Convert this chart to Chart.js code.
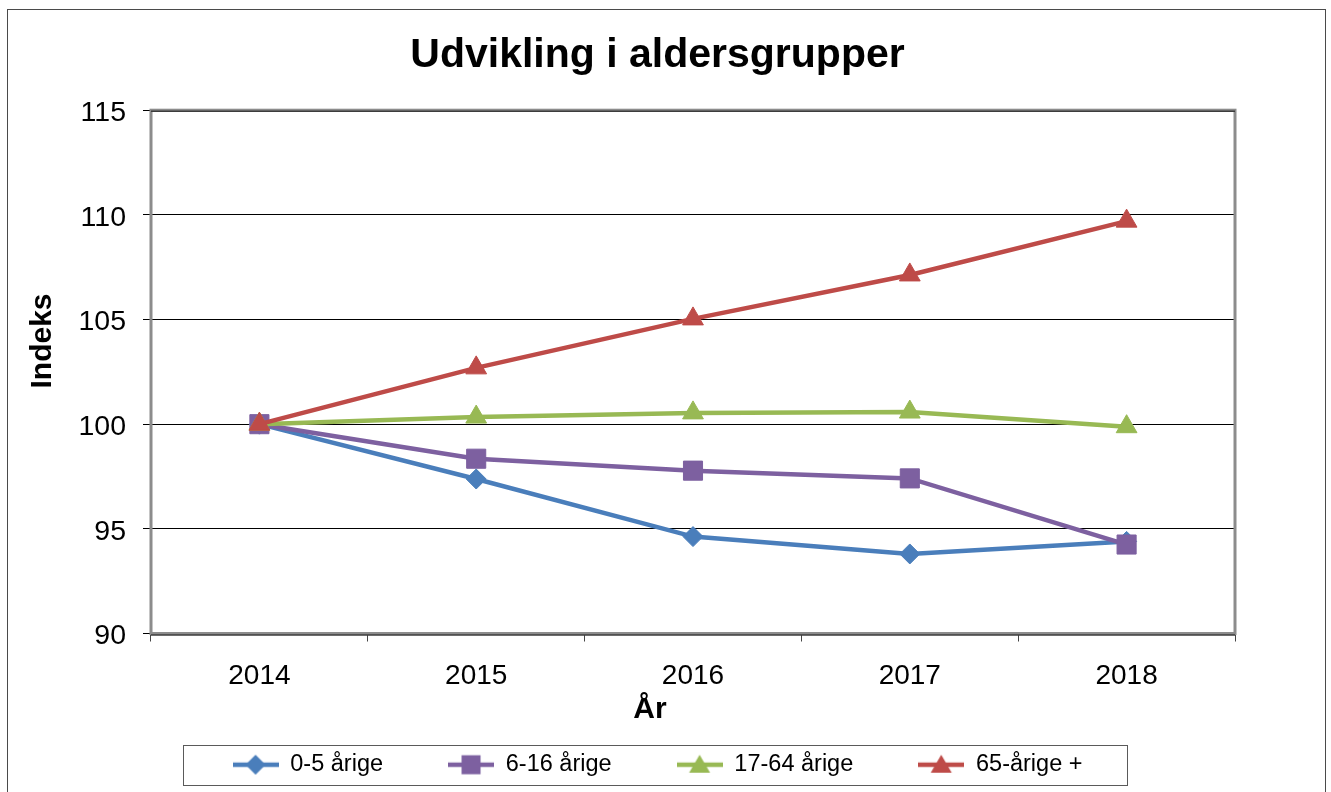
<!DOCTYPE html>
<html>
<head>
<meta charset="utf-8">
<script src="https://cdn.jsdelivr.net/npm/chart.js@4.4.1/dist/chart.umd.min.js"></script>
<style>
  body { margin: 0; background: #fff; }
  canvas { display: block; }
</style>
</head>
<body>
<canvas id="chart" width="1331" height="792"></canvas>
<script>
const years = ['2014', '2015', '2016', '2017', '2018'];
const age0to5 = [100, 97.38, 94.63, 93.80, 94.40];
const age6to16 = [100, 98.35, 97.78, 97.41, 94.25];
const age17to64 = [100, 100.34, 100.54, 100.58, 99.88];
const age65plus = [100, 102.69, 105.03, 107.13, 109.70];
const seriesNames = ['0-5 årige', '6-16 årige', '17-64 årige', '65-årige +'];
const seriesColors = ['#4a7ebb', '#7d60a0', '#98b954', '#be4b48'];
const seriesMarkers = ['rectRot', 'rect', 'triangle', 'triangle'];
const markerSizes = [10, 13.5, 12, 12];

const FONT = "'Liberation Sans', Arial, sans-serif";

// small line+marker picture for the legend
function legendIcon(color, marker) {
  const c = document.createElement('canvas');
  c.width = 46; c.height = 24;
  const g = c.getContext('2d');
  g.strokeStyle = color;
  g.lineWidth = 4.5;
  g.beginPath(); g.moveTo(0, 12); g.lineTo(46, 12); g.stroke();
  g.fillStyle = color;
  g.beginPath();
  if (marker === 'rectRot') {
    g.moveTo(23, 2); g.lineTo(33, 12); g.lineTo(23, 22); g.lineTo(13, 12);
  } else if (marker === 'rect') {
    g.rect(13.5, 2.5, 19, 19);
  } else {
    g.moveTo(23, 2); g.lineTo(33.5, 20); g.lineTo(12.5, 20);
  }
  g.closePath(); g.fill();
  return c;
}

const icons = seriesColors.map((c, i) => legendIcon(c, seriesMarkers[i]));

// frame, outer border, legend box and axis titles
const decor = {
  id: 'decor',
  beforeDatasetsDraw(chart) {
    const { ctx, chartArea: a } = chart;
    ctx.save();
    ctx.strokeStyle = '#8c8c8c';
    ctx.lineWidth = 3;
    ctx.strokeRect(a.left, a.top, a.right - a.left, a.bottom - a.top);
    ctx.strokeStyle = '#3c3c3c';
    ctx.lineWidth = 1.5;
    ctx.beginPath();
    ctx.moveTo(a.left, a.top + 1); ctx.lineTo(a.right, a.top + 1);
    ctx.moveTo(a.left, a.bottom + 1.5); ctx.lineTo(a.right, a.bottom + 1.5);
    ctx.stroke();
    ctx.restore();
  },
  afterDraw(chart) {
    const ctx = chart.ctx;
    ctx.save();
    ctx.strokeStyle = '#4a4a4a';
    ctx.lineWidth = 1;
    ctx.strokeRect(7.5, 9.5, 1318, 800);

    const hb = chart.legend.legendHitBoxes;
    if (hb && hb.length) {
      const last = hb[hb.length - 1];
      const cy = hb[0].top + hb[0].height / 2;
      ctx.strokeStyle = '#5a5a5a';
      ctx.strokeRect(Math.round(hb[0].left - 50) + 0.5, Math.round(cy - 20) + 0.5,
        Math.round(last.left + last.width - hb[0].left + 94), 40);
    }

    ctx.fillStyle = '#000';
    ctx.font = 'bold 30px ' + FONT;
    ctx.textAlign = 'center';
    ctx.textBaseline = 'alphabetic';
    ctx.fillText('År', 650, 718);
    ctx.translate(51, 341);
    ctx.rotate(-Math.PI / 2);
    ctx.fillText('Indeks', 0, 0);
    ctx.restore();
  }
};

const allSeries = [age0to5, age6to16, age17to64, age65plus];

new Chart(document.getElementById('chart'), {
  type: 'line',
  data: {
    labels: years,
    datasets: allSeries.map((values, i) => ({
      label: seriesNames[i],
      data: values,
      borderColor: seriesColors[i],
      backgroundColor: seriesColors[i],
      borderWidth: 4.5,
      pointStyle: seriesMarkers[i],
      pointRadius: markerSizes[i],
      pointBorderWidth: 1,
      pointBorderColor: seriesColors[i],
      pointBackgroundColor: seriesColors[i],
      tension: 0,
      order: 4 - i
    }))
  },
  options: {
    responsive: false,
    animation: false,
    layout: { padding: { left: 0, right: 16, top: 0, bottom: 5.5 } },
    plugins: {
      title: {
        display: true,
        text: 'Udvikling i aldersgrupper',
        color: '#000',
        font: { family: FONT, size: 41, weight: 'bold' },
        padding: { top: 31, bottom: 30 }
      },
      legend: {
        position: 'bottom',
        labels: {
          color: '#000',
          font: { family: FONT, size: 23.5 },
          padding: 65,
          usePointStyle: true,
          pointStyleWidth: 46,
          sort: (a, b) => a.datasetIndex - b.datasetIndex,
          generateLabels: chart => chart.data.datasets.map((ds, i) => ({
            text: ds.label,
            datasetIndex: i,
            pointStyle: icons[i],
            fillStyle: ds.borderColor,
            strokeStyle: ds.borderColor,
            lineWidth: 0,
            hidden: false,
            fontColor: '#000'
          }))
        }
      },
      tooltip: { enabled: false }
    },
    scales: {
      x: {
        type: 'category',
        offset: true,
        grid: { offset: true, drawOnChartArea: false, tickLength: 8, color: '#444' },
        border: { display: false },
        ticks: { color: '#000', font: { family: FONT, size: 28 }, padding: 18, maxRotation: 0 },
        afterFit: s => { s.height = 54.5; }
      },
      y: {
        min: 90,
        max: 115,
        ticks: { stepSize: 5, color: '#000', font: { family: FONT, size: 28.5 }, padding: 17, labelOffset: 3 },
        grid: { color: '#000', lineWidth: 1, tickLength: 8 },
        border: { display: false },
        afterFit: s => { s.width = 151; }
      },
      yRight: {
        type: 'linear',
        position: 'right',
        display: true,
        ticks: { display: false },
        grid: { display: false },
        border: { display: false },
        afterFit: s => { s.width = 80; }
      }
    }
  },
  plugins: [decor]
});
</script>
</body>
</html>
